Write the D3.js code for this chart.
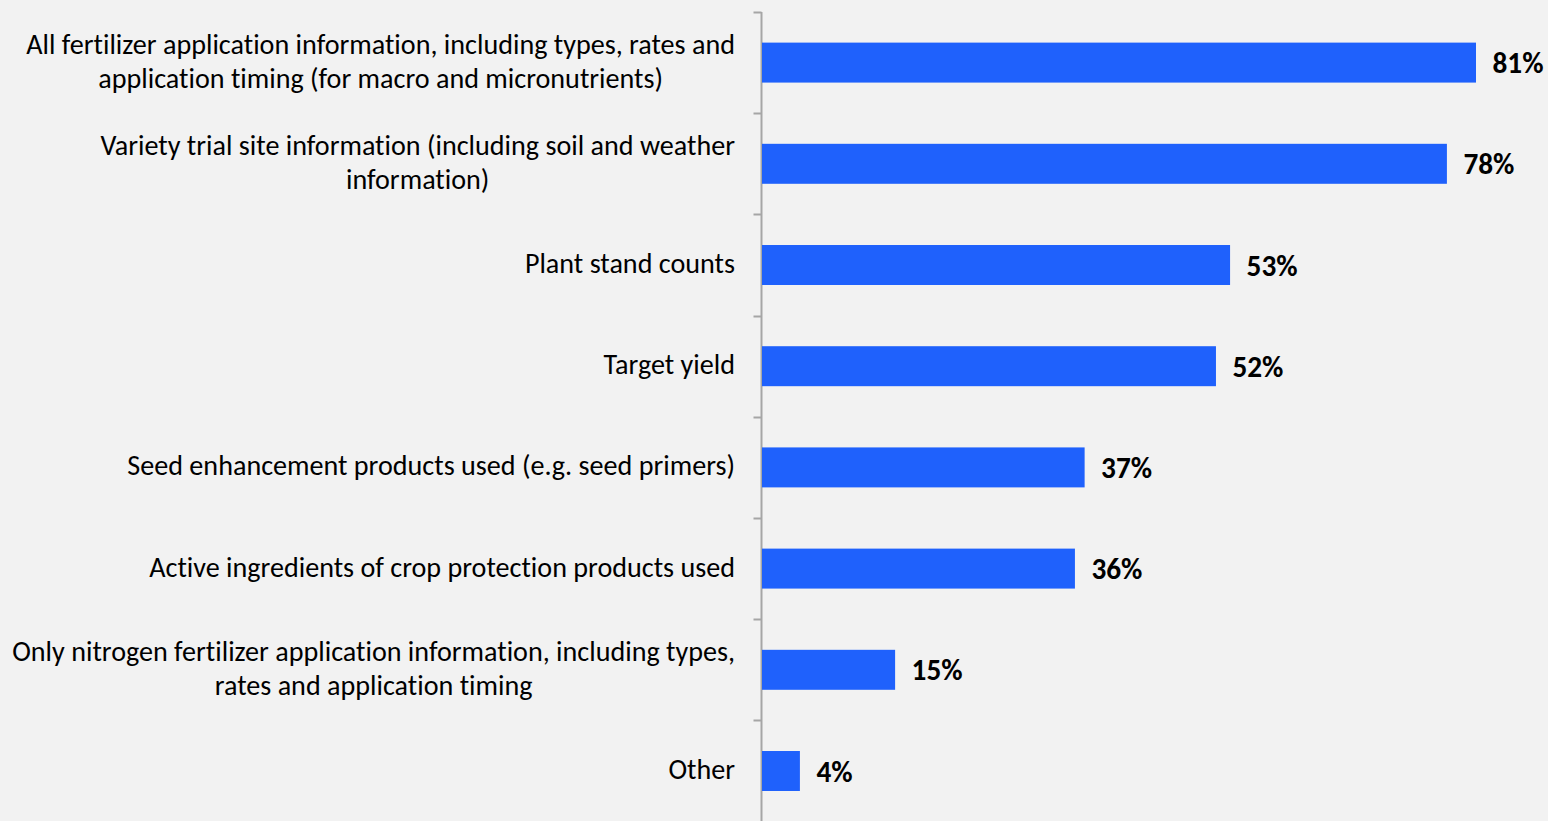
<!DOCTYPE html>
<html><head><meta charset="utf-8">
<script src="https://cdn.jsdelivr.net/npm/d3@7"></script>
<style>
html,body{margin:0;padding:0;background:#f2f2f2;}
svg{display:block;}
text{font-variant-ligatures:none;font-feature-settings:"liga" 0;}
</style></head>
<body>
<svg id="c" width="1548" height="821"></svg>
<script>
const categories = [
  "All fertilizer application information, including types, rates and\napplication timing (for macro and micronutrients)",
  "Variety trial site information (including soil and weather\ninformation)",
  "Plant stand counts",
  "Target yield",
  "Seed enhancement products used (e.g. seed primers)",
  "Active ingredients of crop protection products used",
  "Only nitrogen fertilizer application information, including types,\nrates and application timing",
  "Other"
];
// estimated bar lengths (percent)
const values = [81, 77.7, 53.1, 51.5, 36.6, 35.5, 15.1, 4.3];
const valueLabels = ["81%", "78%", "53%", "52%", "37%", "36%", "15%", "4%"];

const W = 1548, H = 821;
const svg = d3.select("#c");
svg.append("rect").attr("width", W).attr("height", H).attr("fill", "#f2f2f2");

const font = "Carlito, Calibri, Lato, 'Open Sans', sans-serif";
const axisX = 761.5;
const y = d3.scaleBand().domain(categories).range([12, 821.6]).paddingInner(0.605).paddingOuter(0.3025);
const x = d3.scaleLinear().domain([0, 81]).range([762, 1476]);

const g = svg.append("g").attr("transform", `translate(${axisX},0)`);
const step = y.step();
const bounds = d3.range(categories.length + 1).map(i => 12 + i * step);
g.append("line").attr("x1", 0).attr("x2", 0).attr("y1", 12).attr("y2", H)
  .attr("stroke", "#a6a6a6").attr("stroke-width", 2);
g.selectAll("line.t").data(bounds).join("line").attr("class", "t")
  .attr("x1", -8).attr("x2", 0).attr("y1", d => Math.round(d) + 0.5).attr("y2", d => Math.round(d) + 0.5)
  .attr("stroke", "#a6a6a6").attr("stroke-width", 2);

// bars
svg.selectAll("rect.bar").data(values).join("rect").attr("class", "bar")
  .attr("x", x(0)).attr("y", (d, i) => y(categories[i]))
  .attr("width", d => x(d) - x(0)).attr("height", y.bandwidth())
  .attr("fill", "#1f61fc");

// value labels
svg.selectAll("text.val").data(values).join("text").attr("class", "val")
  .attr("x", d => x(d) + 16.5).attr("y", (d, i) => y(categories[i]) + y.bandwidth() / 2 + 0.5)
  .attr("dominant-baseline", "central")
  .attr("font-family", font).attr("font-weight", "bold").attr("font-size", 24)
  .attr("fill", "#000").text((d, i) => valueLabels[i]);

// category labels
const lineH = 34;
const labels = svg.selectAll("g.lab").data(categories).join("g").attr("class", "lab");
labels.each(function(c) {
  const lines = c.split("\n");
  const gg = d3.select(this);
  const cy = y(c) + y.bandwidth() / 2 - 1.5;
  gg.selectAll("text").data(lines).join("text")
    .attr("font-family", font).attr("font-size", 24).attr("fill", "#000")
    .attr("dominant-baseline", "central").attr("text-anchor", "middle")
    .attr("y", (d, i) => cy + (i - (lines.length - 1) / 2) * lineH)
    .text(d => d);
});

// fit label font size to reference width of longest line (723px)
const ref = svg.selectAll("g.lab text").filter(d => d.startsWith("Only nitrogen"));
const w0 = ref.node().getComputedTextLength();
const fs = 24 * 723 / w0;
svg.selectAll("g.lab text").attr("font-size", fs);
labels.each(function(c) {
  const t = d3.select(this).selectAll("text");
  const maxW = d3.max(t.nodes().map(n => n.getComputedTextLength()));
  t.attr("x", 735 - maxW / 2);
});
// value font: fit "81%" to ~51px
const v0 = svg.select("text.val").node().getComputedTextLength();
svg.selectAll("text.val").attr("font-size", 24 * 51 / v0);
</script>
</body></html>
